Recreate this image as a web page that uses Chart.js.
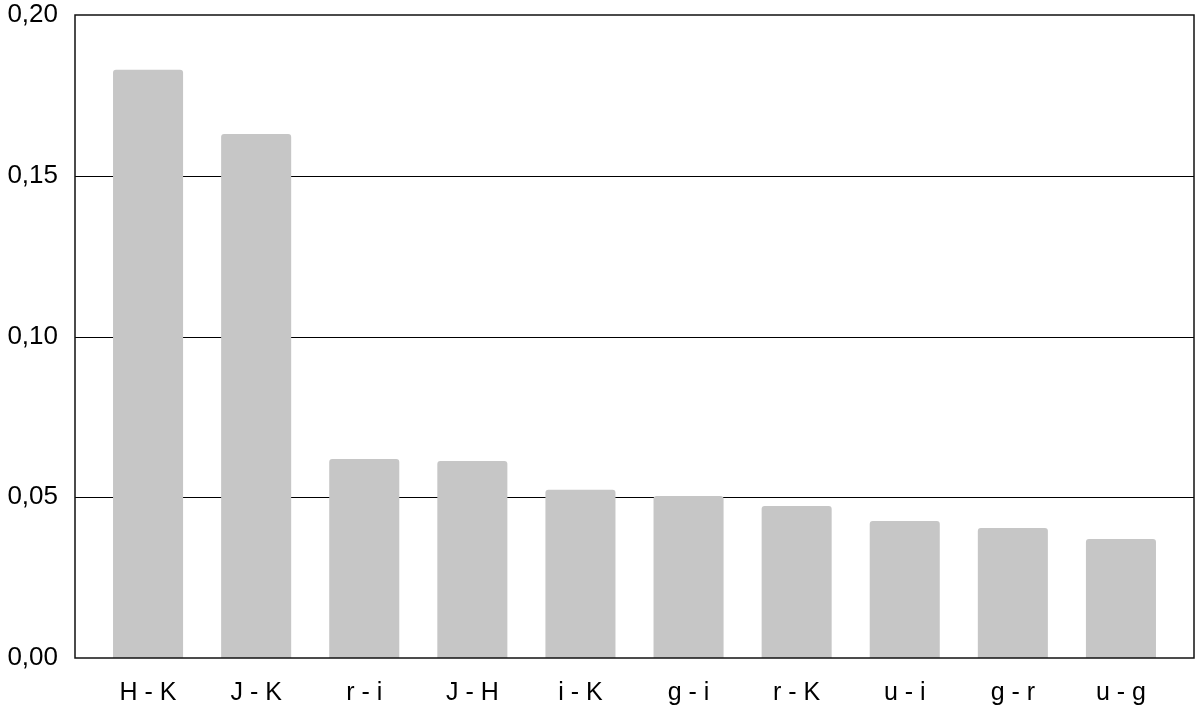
<!DOCTYPE html>
<html><head><meta charset="utf-8">
<script src="https://cdn.jsdelivr.net/npm/chart.js@4/dist/chart.umd.min.js"></script>
<style>html,body{margin:0;padding:0;background:#fff}#w{width:1200px;height:711px}</style>
</head><body><div id="w"><canvas id="c"></canvas></div>
<script>
const categories = ["H - K","J - K","r - i","J - H","i - K","g - i","r - K","u - i","g - r","u - g"];
const values = [0.183, 0.163, 0.0619, 0.0613, 0.0523, 0.0504, 0.0473, 0.0426, 0.0404, 0.0370];
const yTicks = [0, 0.05, 0.10, 0.15, 0.20];

const INSET = 19;
const frame = {
  id: 'frame',
  beforeDatasetsDraw(chart) {
    const a = chart.chartArea, ctx = chart.ctx, y = chart.scales.y;
    ctx.save();
    ctx.strokeStyle = '#000';
    ctx.lineWidth = 1.2;
    yTicks.slice(1, -1).forEach(v => {
      const py = Math.round(y.getPixelForValue(v)) + 0.5;
      ctx.beginPath(); ctx.moveTo(a.left - INSET, py); ctx.lineTo(a.right + INSET, py); ctx.stroke();
    });
    ctx.restore();
  },
  afterDatasetsDraw(chart) {
    const a = chart.chartArea, ctx = chart.ctx;
    ctx.save();
    ctx.strokeStyle = '#111';
    ctx.lineWidth = 1.5;
    ctx.strokeRect(a.left - INSET, a.top, a.right - a.left + 2 * INSET, a.bottom - a.top);
    ctx.restore();
  }
};

new Chart(document.getElementById('c'), {
  type: 'bar',
  data: { labels: categories, datasets: [{ data: values, backgroundColor: '#c6c6c6', borderRadius: 3, borderSkipped: 'bottom', categoryPercentage: 0.648, barPercentage: 1 }] },
  options: {
    responsive: true, maintainAspectRatio: false, animation: false,
    layout: { padding: { top: 0, right: 25, bottom: 0, left: 0 } },
    plugins: { legend: { display: false }, tooltip: { enabled: false } },
    scales: {
      x: {
        grid: { display: false },
        border: { display: false },
        ticks: { color: '#000', font: { family: 'Liberation Sans', size: 25 }, padding: 12, maxRotation: 0, minRotation: 0, autoSkip: false },
        afterFit(s) { s.height = 53; }
      },
      y: {
        min: 0, max: 0.20,
        afterBuildTicks(s) { s.ticks = yTicks.map(v => ({ value: v })); },
        grid: { display: false, drawTicks: false },
        border: { display: false },
        ticks: { color: '#000', font: { family: 'Liberation Sans', size: 26 }, padding: 36,
          callback: v => v.toFixed(2).replace('.', ',') },
        afterFit(s) { s.width = 94; s.paddingTop = 15; s.paddingBottom = 0; }
      }
    }
  },
  plugins: [frame]
});
</script></body></html>
